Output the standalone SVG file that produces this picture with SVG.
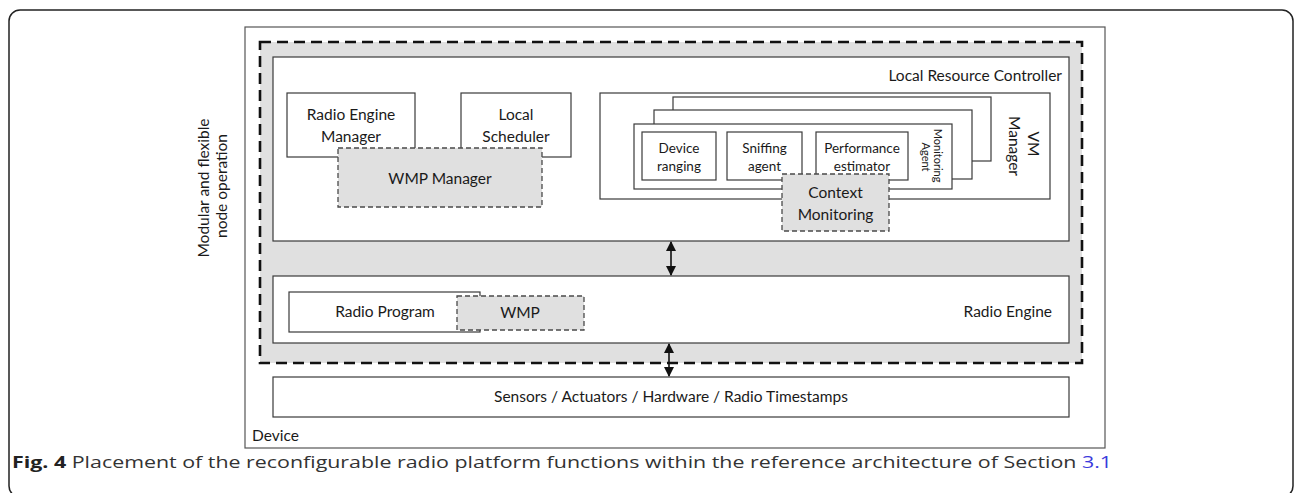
<svg xmlns="http://www.w3.org/2000/svg" width="1296" height="493" viewBox="0 0 1296 493">
  <defs>
    <style>
      .t { font-family: Lato, "Open Sans", sans-serif; font-size: 15.5px; fill: #1a1a1a; }
      .ts { font-family: Lato, "Open Sans", sans-serif; font-size: 13.5px; fill: #1a1a1a; }
      .tx { font-family: Lato, "Open Sans", sans-serif; font-size: 11px; fill: #1a1a1a; }
      .box { fill: #ffffff; stroke: #3a3a3a; stroke-width: 1.2; }
      .dbox { fill: #e0e0e0; stroke: #4a4a4a; stroke-width: 1.3; stroke-dasharray: 5 3; }
      .zone { fill: #e0e0e0; stroke: #111111; stroke-width: 2.6; stroke-dasharray: 11 6; }
      .conn { stroke: #111111; stroke-width: 1.6; fill: none; }
      .cap { font-family: "Open Sans", "Noto Sans", sans-serif; font-size: 16.5px; fill: #333333; }
    </style>
    <marker id="ah" viewBox="0 0 10 10" refX="9" refY="5" markerWidth="11" markerHeight="10" markerUnits="userSpaceOnUse" orient="auto-start-reverse">
      <path d="M0,0 L10,5 L0,10 z" fill="#111111"/>
    </marker>
  </defs>

  <!-- figure frame (runs past the lower edge) -->
  <rect x="9" y="10" width="1284" height="487" rx="11" fill="#ffffff" stroke="#222222" stroke-width="1.5"/>

  <!-- device -->
  <g id="device">
    <rect x="245" y="27" width="860" height="421" fill="#ffffff" stroke="#555555" stroke-width="1.2"/>
    <text class="t" x="252" y="441">Device</text>
  </g>

  <!-- modular / flexible operation zone -->
  <g id="node-operation">
    <rect class="zone" x="260" y="42" width="822" height="321"/>
    <text class="t" transform="translate(212 186) rotate(-90)" text-anchor="middle">
      <tspan x="0" y="-3">Modular and flexible</tspan>
      <tspan x="0" y="15">node operation</tspan>
    </text>
  </g>

  <g id="local-resource-controller">
    <rect class="box" x="273" y="57" width="796" height="184"/>
    <text class="t" x="1062" y="81" text-anchor="end">Local Resource Controller</text>
  </g>

  <g id="radio-engine-manager">
    <rect class="box" x="287" y="93" width="128" height="64"/>
    <text class="t" x="351" y="120" text-anchor="middle">Radio Engine</text>
    <text class="t" x="351" y="142" text-anchor="middle">Manager</text>
  </g>

  <g id="local-scheduler">
    <rect class="box" x="461" y="93" width="110" height="64"/>
    <text class="t" x="516" y="120" text-anchor="middle">Local</text>
    <text class="t" x="516" y="142" text-anchor="middle">Scheduler</text>
  </g>

  <g id="wmp-manager">
    <rect class="dbox" x="338" y="148" width="204" height="59"/>
    <text class="t" x="440" y="184" text-anchor="middle">WMP Manager</text>
  </g>

  <g id="vm-manager">
    <rect class="box" x="600" y="93" width="450" height="106"/>
    <text class="t" transform="translate(1022 146) rotate(90)" text-anchor="middle">
      <tspan x="0" y="-6">VM</tspan>
      <tspan x="0" y="13">Manager</tspan>
    </text>
  </g>

  <!-- stacked monitoring agent instances -->
  <g id="monitoring-agent-3">
    <rect class="box" x="673" y="97" width="318" height="64"/>
  </g>
  <g id="monitoring-agent-2">
    <rect class="box" x="654" y="110" width="318" height="69"/>
  </g>
  <g id="monitoring-agent">
    <rect class="box" x="634" y="124" width="318" height="65"/>
    <text class="tx" transform="translate(931 157) rotate(90)" text-anchor="middle">
      <tspan x="0" y="-3">Monitoring</tspan>
      <tspan x="0" y="9">Agent</tspan>
    </text>
  </g>

  <g id="device-ranging">
    <rect class="box" x="642" y="132" width="74" height="48"/>
    <text class="ts" x="679" y="153" text-anchor="middle">Device</text>
    <text class="ts" x="679" y="171" text-anchor="middle">ranging</text>
  </g>

  <g id="sniffing-agent">
    <rect class="box" x="727" y="132" width="75" height="48"/>
    <text class="ts" x="764.5" y="153" text-anchor="middle">Sniffing</text>
    <text class="ts" x="764.5" y="171" text-anchor="middle">agent</text>
  </g>

  <g id="performance-estimator">
    <rect class="box" x="816" y="132" width="92" height="48"/>
    <text class="ts" x="862" y="153" text-anchor="middle">Performance</text>
    <text class="ts" x="862" y="171" text-anchor="middle">estimator</text>
  </g>

  <g id="context-monitoring">
    <rect class="dbox" x="782" y="174" width="107" height="57"/>
    <text class="t" x="835.5" y="198" text-anchor="middle">Context</text>
    <text class="t" x="835.5" y="220" text-anchor="middle">Monitoring</text>
  </g>

  <g id="radio-engine">
    <rect class="box" x="273" y="276" width="796" height="67"/>
    <text class="t" x="1052" y="317" text-anchor="end">Radio Engine</text>
  </g>

  <g id="radio-program">
    <rect class="box" x="289" y="292" width="191" height="40"/>
    <text class="t" x="385" y="317" text-anchor="middle">Radio Program</text>
  </g>

  <g id="wmp">
    <rect class="dbox" x="457" y="296" width="127" height="34"/>
    <text class="t" x="520" y="318" text-anchor="middle">WMP</text>
  </g>

  <g id="hardware">
    <rect class="box" x="273" y="377" width="796" height="40"/>
    <text class="t" x="671" y="402" text-anchor="middle">Sensors / Actuators / Hardware / Radio Timestamps</text>
  </g>

  <!-- interfaces between layers -->
  <g id="connectors">
    <line class="conn" x1="671" y1="242" x2="671" y2="275" marker-start="url(#ah)" marker-end="url(#ah)"/>
    <line class="conn" x1="669" y1="344" x2="669" y2="376" marker-start="url(#ah)" marker-end="url(#ah)"/>
  </g>

  <!-- caption -->
  <text class="cap" x="12" y="468" textLength="1100" lengthAdjust="spacingAndGlyphs"><tspan font-weight="bold" fill="#222222">Fig. 4</tspan> Placement of the reconfigurable radio platform functions within the reference architecture of Section <tspan fill="#3b3bdc">3.1</tspan></text>
</svg>
